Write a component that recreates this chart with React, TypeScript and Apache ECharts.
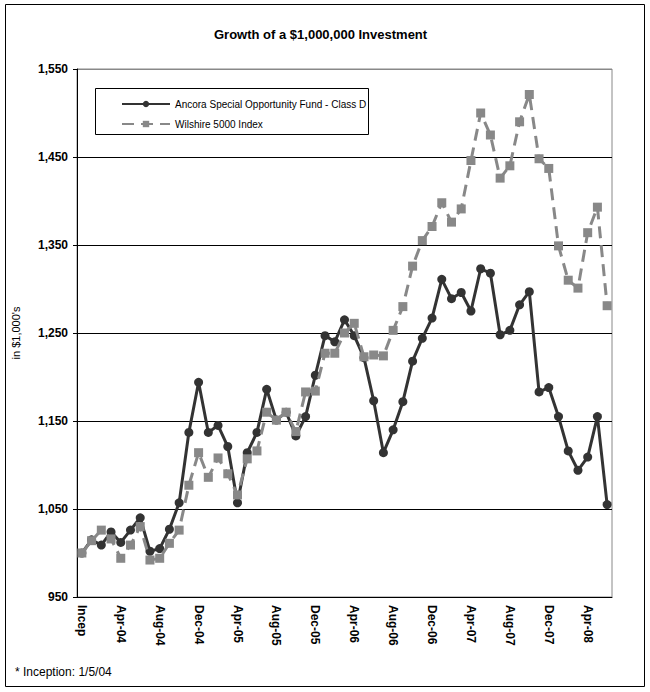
import React, { useEffect, useRef } from "react";
import * as echarts from "echarts";

const categories: string[] = [
  "Incep",
  "Jan-04", "Feb-04", "Mar-04", "Apr-04", "May-04", "Jun-04", "Jul-04", "Aug-04", "Sep-04", "Oct-04", "Nov-04", "Dec-04",
  "Jan-05", "Feb-05", "Mar-05", "Apr-05", "May-05", "Jun-05", "Jul-05", "Aug-05", "Sep-05", "Oct-05", "Nov-05", "Dec-05",
  "Jan-06", "Feb-06", "Mar-06", "Apr-06", "May-06", "Jun-06", "Jul-06", "Aug-06", "Sep-06", "Oct-06", "Nov-06", "Dec-06",
  "Jan-07", "Feb-07", "Mar-07", "Apr-07", "May-07", "Jun-07", "Jul-07", "Aug-07", "Sep-07", "Oct-07", "Nov-07", "Dec-07",
  "Jan-08", "Feb-08", "Mar-08", "Apr-08", "May-08", "Jun-08",
];

const ancoraFund: number[] = [
  1000, 1015, 1009, 1024, 1012, 1026, 1040, 1002, 1005, 1027, 1057, 1137, 1194,
  1137, 1145, 1121, 1057, 1114, 1137, 1186, 1151, 1160, 1133, 1155, 1202,
  1247, 1240, 1265, 1247, 1222, 1173, 1114, 1140, 1172, 1218, 1244, 1267,
  1311, 1289, 1296, 1275, 1323, 1318, 1248, 1253, 1282, 1297, 1183, 1188,
  1155, 1116, 1094, 1109, 1155, 1055,
];

const wilshire5000: number[] = [
  1000, 1014, 1026, 1016, 994, 1009, 1030, 992, 994, 1011, 1026, 1077, 1114,
  1086, 1108, 1090, 1066, 1107, 1116, 1160, 1151, 1160, 1138, 1183, 1184,
  1227, 1227, 1250, 1261, 1223, 1225, 1224, 1253, 1280, 1326, 1355, 1371,
  1398, 1376, 1391, 1446, 1500, 1475, 1426, 1440, 1490, 1521, 1448, 1437,
  1349, 1310, 1301, 1364, 1393, 1281,
];

const seriesNames = ["Ancora Special Opportunity Fund - Class D", "Wilshire 5000 Index"];
const FONT = "Liberation Sans, Arial, sans-serif";

export default function App() {
  const ref = useRef<HTMLDivElement>(null);
  useEffect(() => {
    if (!ref.current) return;
    const chart = echarts.init(ref.current, null, { renderer: "svg" });
    chart.setOption({
      animation: false,
      backgroundColor: "#fff",
      title: {
        text: "Growth of a $1,000,000 Investment",
        left: 209,
        top: 23,
        textStyle: { fontFamily: FONT, fontSize: 13, fontWeight: "bold", color: "#000" },
      },
      legend: {
        orient: "vertical",
        left: 116,
        top: 94,
        itemWidth: 48,
        itemHeight: 8,
        itemGap: 10,
        textStyle: { fontFamily: FONT, fontSize: 10, color: "#000" },
        data: seriesNames,
      },
      grid: {
        left: 77,
        right: 38,
        top: 69,
        bottom: 95,
        show: true,
        borderColor: "#888",
        borderWidth: 1,
        backgroundColor: "transparent",
      },
      xAxis: {
        type: "category",
        data: categories,
        boundaryGap: true,
        axisLine: { lineStyle: { color: "#000", width: 1 } },
        axisTick: { interval: 0, length: 5, lineStyle: { color: "#000" } },
        axisLabel: {
          interval: 3,
          rotate: -90,
          margin: 8,
          fontFamily: FONT,
          fontSize: 12,
          fontWeight: "bold",
          color: "#000",
        },
        splitLine: { show: false },
      },
      yAxis: {
        type: "value",
        min: 950,
        max: 1550,
        interval: 100,
        name: "in $1,000's",
        nameLocation: "middle",
        nameRotate: 90,
        nameGap: 56,
        nameTextStyle: { fontFamily: FONT, fontSize: 11, color: "#000" },
        axisLine: { show: true, lineStyle: { color: "#000", width: 1 } },
        axisTick: { show: true, length: 4, lineStyle: { color: "#000" } },
        axisLabel: {
          margin: 9,
          fontFamily: FONT,
          fontSize: 12,
          fontWeight: "bold",
          color: "#000",
          formatter: (v: number) => v.toLocaleString("en-US"),
        },
        splitLine: {
          show: true,
          lineStyle: { color: ["#000", "#000", "#000", "#000", "#000", "#000", "#888"], width: 1 },
        },
      },
      series: [
        {
          name: seriesNames[0],
          type: "line",
          data: ancoraFund,
          symbol: "circle",
          symbolSize: 9,
          showSymbol: true,
          showAllSymbol: true,
          lineStyle: { color: "#333", width: 3 },
          itemStyle: { color: "#333" },
          z: 2,
        },
        {
          name: seriesNames[1],
          type: "line",
          data: wilshire5000,
          symbol: "rect",
          symbolSize: 9,
          showSymbol: true,
          showAllSymbol: true,
          lineStyle: { color: "#888", width: 3, type: [12, 7] },
          itemStyle: { color: "#888" },
          z: 3,
        },
      ],
      graphic: [
        {
          type: "rect",
          shape: { x: 5.5, y: 4.5, width: 639, height: 682 },
          style: { fill: "none", stroke: "#000", lineWidth: 1 },
          silent: true,
        },
        {
          type: "rect",
          shape: { x: 95.5, y: 88.5, width: 273, height: 46 },
          style: { fill: "none", stroke: "#000", lineWidth: 1 },
          silent: true,
          z: 10,
        },
        {
          type: "text",
          left: 15,
          top: 666,
          style: { text: "* Inception: 1/5/04", fontFamily: FONT, fontSize: 12, fill: "#000" },
        },
      ],
    });
    return () => chart.dispose();
  }, []);
  return (
    <div
      ref={ref}
      style={{ position: "fixed", left: 0, top: 0, width: 650, height: 692 }}
    />
  );
}
